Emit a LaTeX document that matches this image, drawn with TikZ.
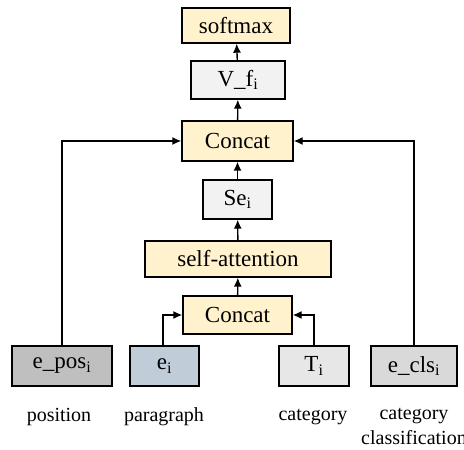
\documentclass[tikz,border=0pt]{standalone}
\usepackage{fontspec}
\setmainfont{Liberation Serif}
\usetikzlibrary{arrows.meta}
\definecolor{ylw}{HTML}{FFF2CC}
\definecolor{lgray}{HTML}{F2F2F2}
\definecolor{mgray}{HTML}{BFBFBF}
\definecolor{bgray}{HTML}{C0CCD8}
\definecolor{tgray}{HTML}{E7E7E7}
\definecolor{cgray}{HTML}{D9D9D9}
\tikzset{
  blk/.style={draw=black, line width=1.4pt, inner sep=0pt, font=\fontsize{23}{27}\selectfont},
  lbl/.style={font=\fontsize{20}{25}\selectfont, align=center, inner sep=0pt},
  arr/.style={line width=1.4pt, -{Latex[length=9pt,width=8pt]}}
}
\begin{document}
\begin{tikzpicture}[x=1pt,y=1pt]
\useasboundingbox (0,0) rectangle (464,450);
\clip (0,0) rectangle (464,450);
\node[blk, fill=ylw, minimum width=108pt, minimum height=35pt] (soft) at (236,424.5) {softmax};
\node[blk, fill=lgray, minimum width=94pt, minimum height=38pt] (vf) at (238,370) {V\_f\textsubscript{i}};
\node[blk, fill=ylw, minimum width=111pt, minimum height=40pt] (cat1) at (237.5,309) {Concat};
\node[blk, fill=lgray, minimum width=69pt, minimum height=39pt] (se) at (237.5,250.5) {Se\textsubscript{i}};
\node[blk, fill=ylw, minimum width=186pt, minimum height=36pt] (sa) at (238,191) {self-attention};
\node[blk, fill=ylw, minimum width=109pt, minimum height=38pt] (cat2) at (237.5,135) {Concat};
\node[blk, fill=mgray, minimum width=100pt, minimum height=40pt] (epos) at (62,84) {e\_pos\textsubscript{i}};
\node[blk, fill=bgray, minimum width=69pt, minimum height=40pt] (ei) at (164.5,84) {e\textsubscript{i}};
\node[blk, fill=tgray, minimum width=70pt, minimum height=40pt] (ti) at (314,84) {T\textsubscript{i}};
\node[blk, fill=cgray, minimum width=86pt, minimum height=40pt] (ecls) at (414,84) {e\_cls\textsubscript{i}};
\node[lbl] (l1) at (59,33) {position};
\node[lbl] (l2) at (164,33) {paragraph};
\node[lbl] (l3) at (313,33) {category};
\node[lbl, anchor=north] (l4) at (414,42) {category\\classification};
\draw[arr] (vf) -- (soft);
\draw[arr] (cat1) -- (vf);
\draw[arr] (se) -- (cat1);
\draw[arr] (sa) -- (se);
\draw[arr] (cat2) -- (sa);
\draw[arr] (epos.north) |- (cat1.west);
\draw[arr] (ecls.north) |- (cat1.east);
\draw[arr] ([xshift=-1.5pt]ei.north) |- (cat2.west);
\draw[arr] (ti.north) |- (cat2.east);
\end{tikzpicture}
\end{document}
